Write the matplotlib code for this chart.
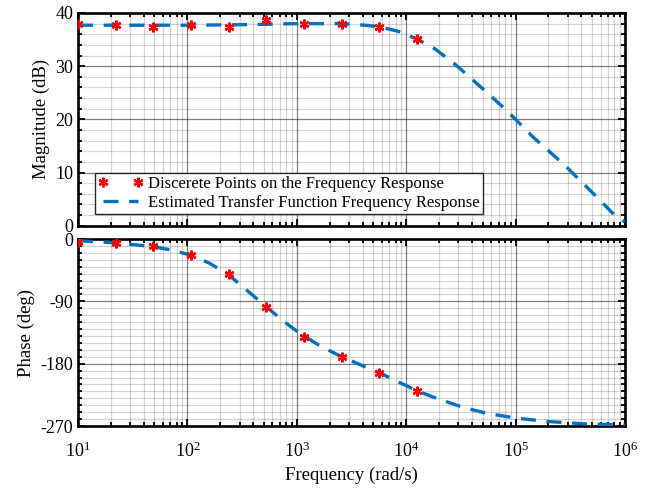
import matplotlib
matplotlib.use("Agg")
import matplotlib.pyplot as plt
import numpy as np
from matplotlib.ticker import LogLocator, MultipleLocator, LogFormatterMathtext, NullFormatter

plt.rcParams['font.family'] = ['Liberation Serif', 'DejaVu Serif']
plt.rcParams['mathtext.fontset'] = 'custom'
plt.rcParams['mathtext.rm'] = 'Liberation Serif'
plt.rcParams['mathtext.it'] = 'Liberation Serif:italic'
plt.rcParams['axes.unicode_minus'] = False

# Discrete measured points
pt_freq = [10, 22.1, 48.9, 108, 239, 528, 1167, 2580, 5700, 12600]
pt_mag = [37.9, 37.8, 37.4, 37.7, 37.4, 38.7, 37.9, 37.9, 37.4, 35.2]
pt_phase = [-3.9, -6.3, -10.1, -23.1, -51, -97.7, -141, -170, -193, -219]

# Estimated transfer function response
tf_freq_mag = [10, 32, 100, 320, 1000, 2580, 4200, 5700, 8300, 12600, 18200,
               28600, 40700, 55800, 76600, 100000, 144000, 205000, 290000,
               398000, 547000, 803000, 1000000]
tf_mag = [37.7, 37.7, 37.7, 37.8, 38.0, 38.0, 37.7, 37.4, 36.6, 35.1, 33.3,
          30.2, 27.4, 24.9, 22.3, 20.0, 16.7, 13.9, 11.1, 8.3, 5.5, 2.0, 0.7]

tf_freq_ph = [10, 22, 49, 75, 108, 160, 239, 350, 528, 750, 1000, 1167, 1700,
              2580, 4000, 5700, 8100, 12600, 17500, 33000, 54000, 100000,
              200000, 440000, 1000000]
tf_phase = [-2.5, -5.5, -11, -16.5, -23.5, -35, -52, -74, -98, -118, -133,
            -140, -156, -170, -183, -193, -205, -219, -228, -243, -251.5,
            -258.5, -263.5, -267, -268.5]

fig = plt.figure(figsize=(6.53, 4.88), dpi=100)
ax1 = fig.add_axes([0.1194, 0.5375, 0.8376, 0.4359])
ax2 = fig.add_axes([0.1194, 0.127, 0.8376, 0.3832])

line_color = '#0072BD'
asterisk = (6, 2, 0)
for ax in (ax1, ax2):
    ax.set_xscale('log')
    ax.set_xlim(10, 1e6)
    ax.xaxis.set_major_locator(LogLocator(base=10, numticks=10))
    ax.xaxis.set_minor_locator(LogLocator(base=10, subs=np.arange(2, 10), numticks=20))
    ax.xaxis.set_minor_formatter(NullFormatter())
    ax.grid(True, which='major', color='k', alpha=0.5, linewidth=0.9)
    ax.grid(True, which='minor', color='k', alpha=0.17, linewidth=0.9)
    ax.tick_params(which='both', direction='in', top=True, right=True,
                   labelsize=13, width=1.3, colors='k')
    ax.tick_params(which='major', length=5)
    ax.tick_params(which='minor', length=3)
    for s in ax.spines.values():
        s.set_linewidth(1.9)
    ax.set_axisbelow(True)

# Magnitude
ax1.plot(tf_freq_mag, tf_mag, linestyle=(0, (4.5, 3.2)), color=line_color,
         linewidth=2.4, label='Estimated Transfer Function Frequency Response', zorder=3)
ax1.plot(pt_freq, pt_mag, linestyle='none', marker=asterisk, color='red',
         markersize=7, markeredgewidth=1.6,
         label='Discerete Points on the Frequency Response', zorder=4)
ax1.set_ylim(0, 40)
ax1.yaxis.set_major_locator(MultipleLocator(10))
ax1.yaxis.set_minor_locator(MultipleLocator(2))
ax1.set_ylabel('Magnitude (dB)', fontsize=13.5)
ax1.xaxis.set_major_formatter(NullFormatter())

handles, labels = ax1.get_legend_handles_labels()
leg = ax1.legend(handles[::-1], labels[::-1], loc='lower left',
                 bbox_to_anchor=(0.031, 0.055), fontsize=12, numpoints=2,
                 handlelength=2.7, fancybox=False, framealpha=1,
                 edgecolor='#262626', borderpad=0.2, labelspacing=0.15,
                 handletextpad=0.3, borderaxespad=0)
leg.get_frame().set_linewidth(1.0)

# Phase
ax2.plot(tf_freq_ph, tf_phase, linestyle=(0, (4.5, 3.2)), color=line_color,
         linewidth=2.4, zorder=3)
ax2.plot(pt_freq, pt_phase, linestyle='none', marker=asterisk, color='red',
         markersize=7, markeredgewidth=1.6, zorder=4)
ax2.set_ylim(-270, 0)
ax2.yaxis.set_major_locator(MultipleLocator(90))
ax2.yaxis.set_minor_locator(MultipleLocator(10))
ax2.set_ylabel('Phase (deg)', fontsize=13.5)
ax2.set_xlabel('Frequency (rad/s)', fontsize=13.5)
ax2.xaxis.set_major_formatter(LogFormatterMathtext())
ax2.tick_params(axis='x', which='major', pad=11)

fig.savefig('out.png', dpi=100)
